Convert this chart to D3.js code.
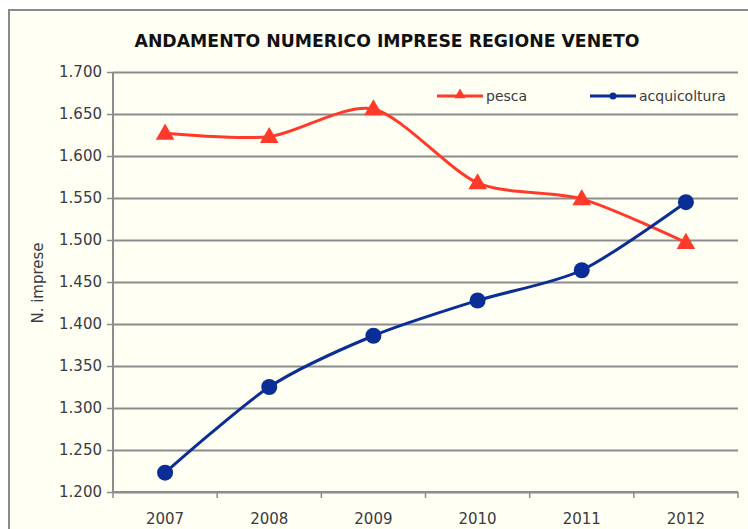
<!DOCTYPE html>
<html>
<head>
<meta charset="utf-8">
<script src="https://cdn.jsdelivr.net/npm/d3@7"></script>
<style>
  html, body { margin: 0; padding: 0; background: #ffffff; }
  svg { display: block; }
</style>
</head>
<body>
<svg id="chart" width="748" height="529"></svg>
<script>
// Numero di imprese in Veneto, 2007-2012
const years = ["2007", "2008", "2009", "2010", "2011", "2012"];
const pesca = [1627, 1623, 1656, 1568, 1549, 1497];
const acquicoltura = [1223, 1325, 1386, 1428, 1464, 1545];
const yTicks = [1200, 1250, 1300, 1350, 1400, 1450, 1500, 1550, 1600, 1650, 1700];
const seriesNames = ["pesca", "acquicoltura"];

const W = 748, H = 529;
const plot = { left: 113, right: 738, top: 72, bottom: 492 };
const red = "#ff3a2a", blue = "#0a2e96";
const labelFont = "'DejaVu Sans', Verdana, sans-serif";

const it = d3.formatLocale({ decimal: ",", thousands: ".", grouping: [3], currency: ["€", ""] });
const fmt = it.format(",.0f");

const svg = d3.select("#chart");

// chart frame
svg.append("rect")
  .attr("x", 9).attr("y", 10).attr("width", W + 10).attr("height", H + 10)
  .attr("fill", "#fffff3").attr("stroke", "#8a8a8a").attr("stroke-width", 2);

const x = d3.scaleBand().domain(years).range([plot.left, plot.right]);
const y = d3.scaleLinear().domain([1200, 1700]).range([plot.bottom, plot.top]);

// horizontal gridlines
svg.append("g")
  .attr("transform", `translate(${plot.left},0)`)
  .call(d3.axisLeft(y).tickValues(yTicks).tickSize(-(plot.right - plot.left)).tickFormat(""))
  .call(g => g.select(".domain").remove())
  .call(g => g.selectAll(".tick line").attr("stroke", "#8c8c8c").attr("stroke-width", 2));

// y axis
svg.append("g")
  .attr("transform", `translate(${plot.left},0)`)
  .call(d3.axisLeft(y).tickValues(yTicks).tickSize(6).tickPadding(5).tickFormat(fmt))
  .call(g => g.select(".domain").attr("stroke", "#8c8c8c").attr("stroke-width", 2)
                .attr("d", `M0,${plot.top}V${plot.bottom}`))
  .call(g => g.selectAll(".tick line").attr("stroke", "#8c8c8c").attr("stroke-width", 1.5))
  .call(g => g.selectAll(".tick text").attr("fill", "#3a3a44")
                .attr("font-family", labelFont).attr("font-size", 15));

// x axis: ticks at category boundaries, labels centred in each band
const xAxis = svg.append("g").attr("transform", `translate(0,${plot.bottom})`);
xAxis.append("line")
  .attr("x1", plot.left).attr("x2", plot.right)
  .attr("stroke", "#8c8c8c").attr("stroke-width", 2);
const bounds = years.map(d => x(d)).concat([x(years[years.length - 1]) + x.bandwidth()]);
xAxis.selectAll("line.tick").data(bounds).join("line")
  .attr("class", "tick")
  .attr("x1", d => d).attr("x2", d => d).attr("y1", 0).attr("y2", 6)
  .attr("stroke", "#8c8c8c").attr("stroke-width", 1.5);
xAxis.selectAll("text").data(years).join("text")
  .attr("x", d => x(d) + x.bandwidth() / 2).attr("y", 32)
  .attr("text-anchor", "middle")
  .attr("fill", "#3a3a44").attr("font-family", labelFont).attr("font-size", 15)
  .text(d => d);

// title
svg.append("text")
  .attr("x", 387).attr("y", 47)
  .attr("text-anchor", "middle")
  .attr("font-family", labelFont).attr("font-weight", "bold").attr("font-size", 17)
  .attr("textLength", 505).attr("lengthAdjust", "spacingAndGlyphs")
  .attr("fill", "#111")
  .text("ANDAMENTO NUMERICO IMPRESE REGIONE VENETO");

// y axis title
svg.append("text")
  .attr("transform", `translate(43,283) rotate(-90)`)
  .attr("text-anchor", "middle")
  .attr("font-family", labelFont).attr("font-size", 15)
  .attr("fill", "#3a3a44")
  .text("N. imprese");

const cx = d => x(d) + x.bandwidth() / 2;
const line = d3.line().x(d => cx(d.year)).y(d => y(d.value)).curve(d3.curveCardinal.tension(0.2));

const tri = d3.symbol().type(d3.symbolTriangle);

function drawSeries(values, color, marker) {
  const pts = years.map((yr, i) => ({ year: yr, value: values[i] }));
  const g = svg.append("g");
  g.append("path").datum(pts)
    .attr("d", line).attr("fill", "none")
    .attr("stroke", color).attr("stroke-width", 3).attr("stroke-linejoin", "round");
  if (marker === "triangle") {
    g.selectAll("path.m").data(pts).join("path")
      .attr("class", "m")
      .attr("transform", d => `translate(${cx(d.year)},${y(d.value) + 1})`)
      .attr("d", tri.size(150)).attr("fill", color);
  } else {
    g.selectAll("circle").data(pts).join("circle")
      .attr("cx", d => cx(d.year)).attr("cy", d => y(d.value))
      .attr("r", 8).attr("fill", color);
  }
}

drawSeries(pesca, red, "triangle");
drawSeries(acquicoltura, blue, "circle");

// legend
const legend = [
  { name: seriesNames[0], color: red, marker: "triangle", x: 437 },
  { name: seriesNames[1], color: blue, marker: "circle", x: 590 }
];
const lg = svg.append("g");
legend.forEach(l => {
  const g = lg.append("g").attr("transform", `translate(${l.x},96)`);
  g.append("line").attr("x1", 0).attr("x2", 46)
    .attr("stroke", l.color).attr("stroke-width", 3);
  if (l.marker === "triangle") {
    g.append("path").attr("transform", "translate(23,-1)")
      .attr("d", d3.symbol().type(d3.symbolTriangle).size(55)).attr("fill", l.color);
  } else {
    g.append("circle").attr("cx", 23).attr("r", 3.5).attr("fill", l.color);
  }
  g.append("text").attr("x", 49).attr("y", 5)
    .attr("font-family", labelFont).attr("font-size", 14)
    .attr("fill", "#3a3a44").text(l.name);
});
</script>
</body>
</html>
